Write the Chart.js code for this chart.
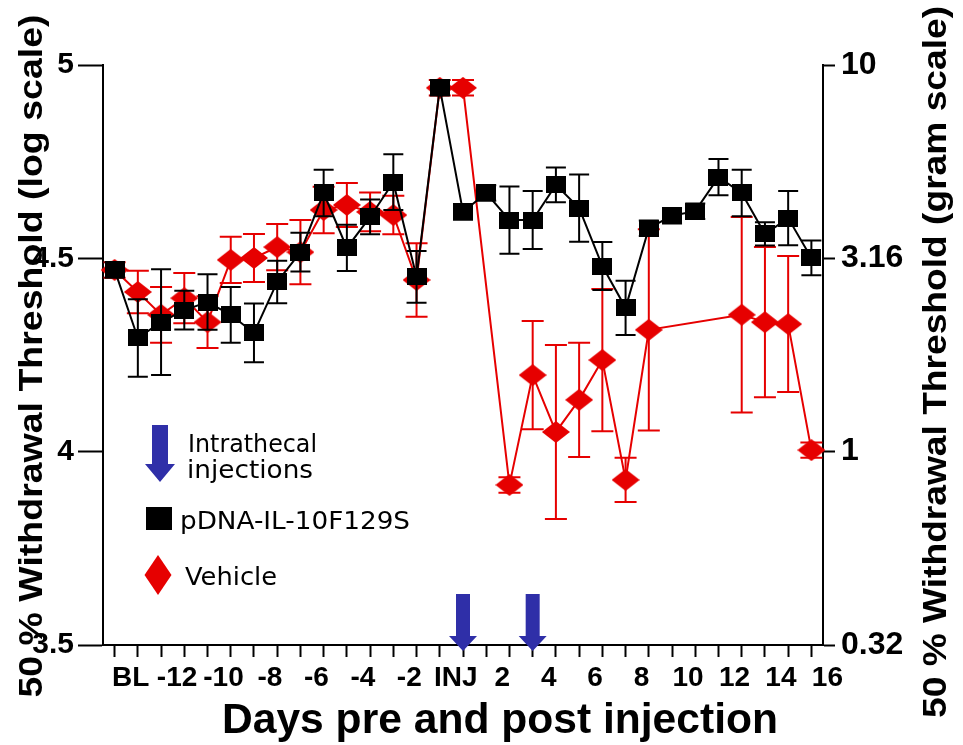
<!DOCTYPE html>
<html>
<head>
<meta charset="utf-8">
<script src="https://cdn.jsdelivr.net/npm/chart.js@4/dist/chart.umd.min.js"></script>
<style>
html,body{margin:0;padding:0;background:#fff;}
canvas{display:block;}
</style>
</head>
<body>
<canvas id="c" width="963" height="745"></canvas>
<script>
// ---------------- data ----------------
const categories = ['BL','-13','-12','-11','-10','-9','-8','-7','-6','-5','-4','-3','-2','-1','INJ',
  '1','2','3','4','5','6','7','8','9','10','11','12','13','14','15','16'];
const xTickLabels = ['BL','-12','-10','-8','-6','-4','-2','INJ','2','4','6','8','10','12','14','16'];

const pdnaValues = [4.470,4.294,4.335,4.366,4.387,4.354,4.307,4.439,4.516,4.669,4.527,4.607,4.697,4.452,4.941,
  4.620,4.669,4.599,4.599,4.690,4.630,4.480,4.372,4.578,4.610,4.622,4.710,4.669,4.563,4.604,4.501];
const pdnaErrors = [0.02,0.10,0.137,0.05,0.072,0.072,0.076,0.055,0.05,0.06,0.06,0.045,0.072,0.067,0.02,
  0.02,0.02,0.087,0.075,0.045,0.087,0.062,0.07,0.02,0.02,0.02,0.047,0.06,0.03,0.07,0.045];

const vehicleValues = [4.470,4.413,4.354,4.397,4.335,4.496,4.501,4.529,4.516,4.625,4.638,4.620,4.612,4.444,4.941,
  4.941,null,3.914,4.198,4.051,4.134,4.237,3.927,4.315,null,null,null,4.354,4.335,4.330,4.004];
const vehicleErrors = [0.02,0.055,0.072,0.065,0.067,0.06,0.062,0.06,0.083,0.06,0.057,0.05,0.05,0.095,0.02,
  0.02,null,0.02,0.14,0.225,0.148,0.184,0.057,0.26,null,null,null,0.253,0.194,0.176,0.02];

const leftTickValues = [3.5, 4, 4.5, 5];
const leftTickLabels = ['3.5', '4', '4.5', '5'];
const rightTickLabels = ['0.32', '1', '3.16', '10'];
const injectionDays = ['1', '4'];

// ---------------- styles ----------------
const RED = '#e60000';
const BLUE = '#2f2fa8';
const SANS = "'Liberation Sans', Arial, sans-serif";
Chart.defaults.font.family = SANS;
Chart.defaults.color = '#000';

function makeRect(w, h, color) {
  const c = document.createElement('canvas');
  c.width = w; c.height = h;
  const g = c.getContext('2d');
  g.fillStyle = color; g.fillRect(0, 0, w, h);
  return c;
}
function makeDiamond(w, h, color) {
  const c = document.createElement('canvas');
  c.width = w; c.height = h;
  const g = c.getContext('2d');
  g.fillStyle = color;
  g.beginPath(); g.moveTo(w/2, 0); g.lineTo(w, h/2); g.lineTo(w/2, h); g.lineTo(0, h/2); g.closePath(); g.fill();
  return c;
}
const squareImg = makeRect(20, 17, '#000');
const diamondImg = makeDiamond(28, 22, RED);

function fitText(ctx, text, x, y, font, width, rotate, align, baseline) {
  ctx.save();
  ctx.font = font;
  ctx.translate(x, y);
  if (rotate) ctx.rotate(rotate);
  const w = ctx.measureText(text).width;
  const sx = width ? width / w : 1;
  ctx.scale(sx, 1);
  ctx.textAlign = align || 'center';
  ctx.textBaseline = baseline || 'alphabetic';
  ctx.fillStyle = '#000';
  ctx.fillText(text, 0, 0);
  ctx.restore();
}
function drawArrow(ctx, cx, top, tip, shaftW, headW, headH, color) {
  ctx.save();
  ctx.fillStyle = color;
  ctx.beginPath();
  ctx.moveTo(cx - shaftW/2, top);
  ctx.lineTo(cx + shaftW/2, top);
  ctx.lineTo(cx + shaftW/2, tip - headH);
  ctx.lineTo(cx + headW/2, tip - headH);
  ctx.lineTo(cx, tip);
  ctx.lineTo(cx - headW/2, tip - headH);
  ctx.lineTo(cx - shaftW/2, tip - headH);
  ctx.closePath();
  ctx.fill();
  ctx.restore();
}

// ---------------- plugins ----------------
const errorBars = {
  id: 'errorBars',
  beforeDatasetDraw(chart, args) {
    const ds = chart.data.datasets[args.index];
    if (!ds.errors) return;
    const xs = chart.scales.x, ys = chart.scales.y, ctx = chart.ctx;
    ctx.save();
    ctx.strokeStyle = ds.borderColor;
    ctx.lineWidth = 2;
    const hw = ds.capWidth / 2;
    ds.data.forEach((v, i) => {
      const e = ds.errors[i];
      if (v == null || e == null) return;
      const x = xs.getPixelForValue(i);
      const yt = ys.getPixelForValue(v + e), yb = ys.getPixelForValue(v - e);
      ctx.beginPath();
      ctx.moveTo(x, yt); ctx.lineTo(x, yb);
      ctx.moveTo(x - hw, yt); ctx.lineTo(x + hw, yt);
      ctx.moveTo(x - hw, yb); ctx.lineTo(x + hw, yb);
      ctx.stroke();
    });
    ctx.restore();
  }
};

const decorations = {
  id: 'decorations',
  afterDraw(chart) {
    const ctx = chart.ctx, area = chart.chartArea, xs = chart.scales.x;
    // injection arrows on the x axis
    injectionDays.forEach(d => {
      const x = xs.getPixelForValue(categories.indexOf(d));
      drawArrow(ctx, x, area.bottom - 51, area.bottom + 6, 14, 28, 15, BLUE);
    });
    // legend
    drawArrow(ctx, 160, 425, 482, 16, 30, 18, BLUE);
    const lf = "24px 'DejaVu Sans', sans-serif";
    fitText(ctx, 'Intrathecal', 188, 452, lf, 129, 0, 'left');
    fitText(ctx, 'injections', 187, 478, lf, 126, 0, 'left');
    ctx.fillStyle = '#000';
    ctx.fillRect(146, 507, 26, 23);
    fitText(ctx, 'pDNA-IL-10F129S', 180, 529, lf, 230, 0, 'left');
    ctx.save();
    ctx.fillStyle = RED;
    ctx.beginPath(); ctx.moveTo(158, 555); ctx.lineTo(171.5, 575); ctx.lineTo(158, 595); ctx.lineTo(144.5, 575); ctx.closePath(); ctx.fill();
    ctx.restore();
    fitText(ctx, 'Vehicle', 185, 585, lf, 92, 0, 'left');
    // axis titles
    fitText(ctx, '50 % Withdrawal Threshold (log scale)', 42, 356, "bold 33px " + SANS, 683, -Math.PI/2, 'center');
    fitText(ctx, '50 % Withdrawal Threshold (gram scale)', 946, 362, "bold 33px " + SANS, 712, -Math.PI/2, 'center');
    fitText(ctx, 'Days pre and post injection', 500, 733, "bold 42px " + SANS, 556, 0, 'center');
  }
};

// ---------------- chart ----------------
new Chart(document.getElementById('c'), {
  type: 'line',
  data: {
    labels: categories,
    datasets: [
      {
        label: 'pDNA-IL-10F129S',
        data: pdnaValues,
        errors: pdnaErrors,
        capWidth: 20,
        order: 0,
        borderColor: '#000',
        backgroundColor: '#000',
        borderWidth: 2,
        pointStyle: squareImg,
        pointRadius: 10,
        pointHoverRadius: 10,
        tension: 0,
        spanGaps: true
      },
      {
        label: 'Vehicle',
        data: vehicleValues,
        errors: vehicleErrors,
        capWidth: 22,
        order: 1,
        borderColor: RED,
        backgroundColor: RED,
        borderWidth: 2,
        pointStyle: diamondImg,
        pointRadius: 10,
        pointHoverRadius: 10,
        tension: 0,
        spanGaps: true
      }
    ]
  },
  options: {
    responsive: false,
    animation: false,
    devicePixelRatio: 1,
    events: [],
    layout: { padding: { top: 65, left: 0, right: 0, bottom: 0 } },
    plugins: { legend: { display: false }, tooltip: { enabled: false } },
    scales: {
      x: {
        type: 'category',
        offset: true,
        grid: { display: true, drawOnChartArea: false, drawTicks: true, tickLength: 12, tickWidth: 2, tickColor: '#000', offset: false },
        border: { display: true, color: '#000', width: 2 },
        ticks: {
          autoSkip: false, maxRotation: 0, minRotation: 0,
          font: { size: 28, weight: 'bold' }, color: '#000', padding: 4, labelOffset: 16,
          callback: (v, i) => xTickLabels.includes(categories[i]) ? categories[i] : ''
        },
        afterFit: s => { s.height = 100; }
      },
      y: {
        position: 'left', min: 3.5, max: 5,
        afterBuildTicks: s => { s.ticks = leftTickValues.map(v => ({ value: v })); },
        ticks: { callback: v => leftTickLabels[leftTickValues.indexOf(v)], font: { size: 30, weight: 'bold' }, color: '#000', padding: 4 },
        grid: { drawOnChartArea: false, tickLength: 25, tickWidth: 2, tickColor: '#000' },
        border: { display: true, color: '#000', width: 2 },
        afterFit: s => { s.width = 103; }
      },
      y2: {
        position: 'right', min: 3.5, max: 5,
        afterBuildTicks: s => { s.ticks = leftTickValues.map(v => ({ value: v })); },
        ticks: { callback: v => rightTickLabels[leftTickValues.indexOf(v)], font: { size: 32, weight: 'bold' }, color: '#000', padding: 6 },
        grid: { drawOnChartArea: false, tickLength: 12, tickWidth: 2, tickColor: '#000' },
        border: { display: true, color: '#000', width: 2 },
        afterFit: s => { s.width = 140; }
      }
    }
  },
  plugins: [errorBars, decorations]
});
</script>
</body>
</html>
